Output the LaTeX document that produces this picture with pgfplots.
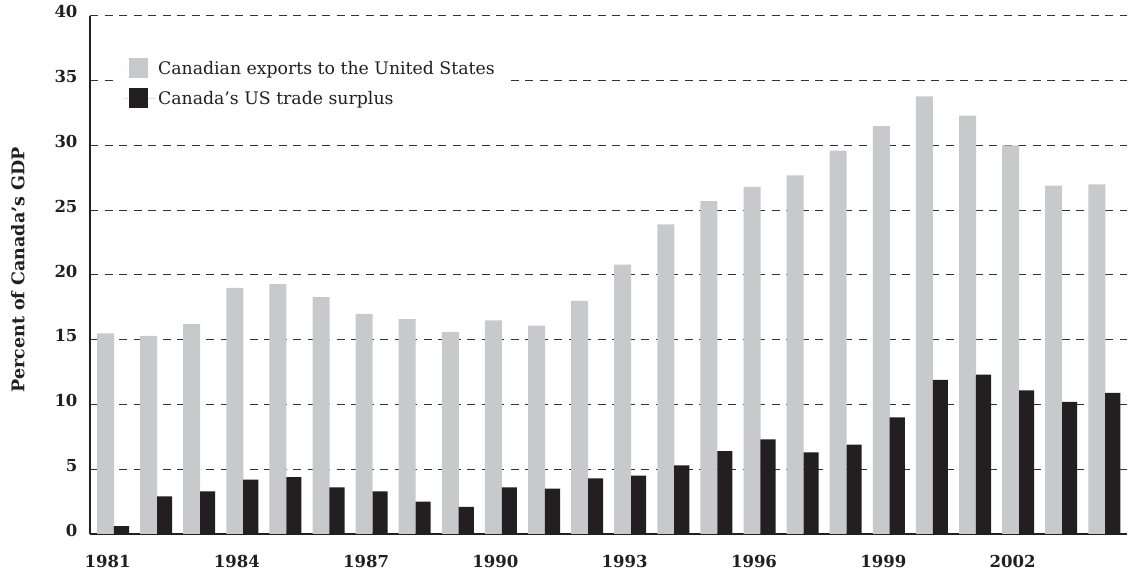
\documentclass[border=0pt]{standalone}
\usepackage{pgfplots}
\pgfplotsset{compat=1.18}
\usepackage{fontspec}
\setmainfont{DejaVu Serif}
\definecolor{bargray}{RGB}{200,201,203}
\definecolor{barblack}{RGB}{35,31,32}
\begin{document}
\begin{tikzpicture}[x=1pt,y=1pt]
\path (0,0) rectangle (1132,575);
\begin{axis}[
  at={(90pt,41pt)}, anchor=south west,
  scale only axis, width=1037pt, height=518pt,
  xmin=1980.64, xmax=2004.70, ymin=0, ymax=40,
  axis x line*=bottom, axis y line*=left,
  axis line style={line width=2pt, draw=barblack},
  ytick={0,5,...,40},
  xtick={1981,1984,...,2002},
  xticklabels={1981,1984,1987,1990,1993,1996,1999,2002},
  major tick length=0pt,
  ymajorgrids,
  grid style={dash pattern=on 8pt off 6.5pt, line width=1pt, draw=black!80},
  tick label style={font=\fontsize{16.5}{18}\selectfont\bfseries, text=barblack},
  /pgf/number format/assume math mode=true,
  yticklabel style={anchor=east, xshift=-9pt, yshift=4pt},
  xticklabel style={anchor=north, yshift=-18pt, xshift=2pt},
  ylabel={Percent of Canada’s GDP},
  ylabel style={font=\fontsize{17.5}{19}\selectfont\bfseries, text=barblack, at={(axis description cs:-0.0695,0.51)}, anchor=center},
  legend style={at={(axis description cs:0.024,0.93)}, anchor=north west, draw=none, fill=white,
    font=\fontsize{17.3}{19}\selectfont, text=barblack, row sep=10pt, inner xsep=8pt, inner ysep=6pt},
  legend cell align=left,
]
\addplot[ybar, bar width=0.394, bar shift=0, fill=bargray, draw=none,
  legend image code/.code={\fill[bargray] (6pt,-10pt) rectangle (25pt,10pt); \path (0pt,0pt) -- (33pt,0pt);}]
coordinates {
(1981,15.5) (1982,15.3) (1983,16.2) (1984,19.0) (1985,19.3) (1986,18.3)
(1987,17.0) (1988,16.6) (1989,15.6) (1990,16.5) (1991,16.1) (1992,18.0)
(1993,20.8) (1994,23.9) (1995,25.7) (1996,26.8) (1997,27.7) (1998,29.6)
(1999,31.5) (2000,33.8) (2001,32.3) (2002,30.0) (2003,26.9) (2004,27.0)
};
\addlegendentry{Canadian exports to the United States}
\addplot[ybar, bar width=0.35, bar shift=0.37, fill=barblack, draw=none,
  legend image code/.code={\fill[barblack] (6pt,-10pt) rectangle (25pt,10pt); \path (0pt,0pt) -- (33pt,0pt);}]
coordinates {
(1981,0.6) (1982,2.9) (1983,3.3) (1984,4.2) (1985,4.4) (1986,3.6)
(1987,3.3) (1988,2.5) (1989,2.1) (1990,3.6) (1991,3.5) (1992,4.3)
(1993,4.5) (1994,5.3) (1995,6.4) (1996,7.3) (1997,6.3) (1998,6.9)
(1999,9.0) (2000,11.9) (2001,12.3) (2002,11.1) (2003,10.2) (2004,10.9)
};
\addlegendentry{Canada’s US trade surplus}
\end{axis}
\end{tikzpicture}
\end{document}
